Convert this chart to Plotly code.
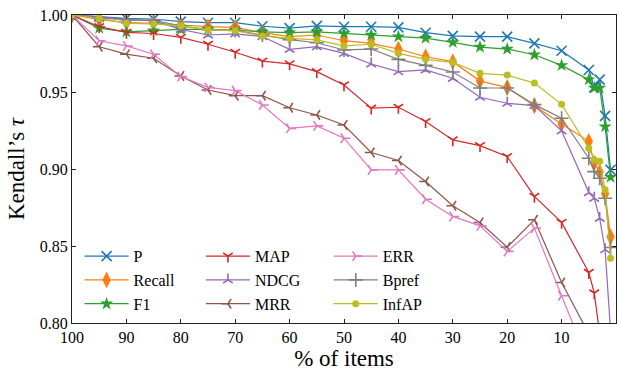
import plotly.graph_objects as go

pct_items = [100, 95, 90, 85, 80, 75, 70, 65, 60, 55, 50, 45, 40, 35, 30, 25, 20, 15, 10, 5, 4, 3, 2, 1]

P = [1.0, 0.9989, 0.9978, 0.9974, 0.9957, 0.995, 0.995, 0.9927, 0.9915, 0.9929, 0.9924, 0.9924, 0.992, 0.9885,
     0.9864, 0.986, 0.986, 0.9816, 0.9768, 0.9643, 0.953, 0.958, 0.9345, 0.8994]
Recall = [1.0, 0.9972, 0.995, 0.9946, 0.9935, 0.9924, 0.992, 0.9885, 0.9859, 0.987, 0.9833, 0.9816, 0.9779, 0.9729,
          0.9697, 0.9571, 0.953, 0.941, 0.9293, 0.918, 0.904, 0.898, 0.884, 0.856]
F1 = [1.0, 0.9915, 0.989, 0.9898, 0.9907, 0.9907, 0.9902, 0.989, 0.9885, 0.989, 0.9881, 0.987, 0.986, 0.985,
      0.9822, 0.9792, 0.9779, 0.9742, 0.9673, 0.958, 0.9527, 0.9527, 0.9275, 0.8947]
MAP = [1.0, 0.9924, 0.9887, 0.988, 0.9855, 0.981, 0.9758, 0.970, 0.9683, 0.9632, 0.9546, 0.9395, 0.9401, 0.9308,
       0.9189, 0.9152, 0.9081, 0.8822, 0.8653, 0.8328, 0.8195, 0.793, 0.75, 0.70]
NDCG = [1.0, 0.999, 0.9968, 0.9963, 0.9907, 0.987, 0.9877, 0.986, 0.9777, 0.9794, 0.9751, 0.9682, 0.9632, 0.9643,
        0.9589, 0.9466, 0.9427, 0.9412, 0.9248, 0.8847, 0.881, 0.868, 0.8476, 0.795]
MRR = [1.0, 0.9794, 0.9746, 0.9719, 0.9604, 0.9513, 0.9476, 0.9476, 0.9398, 0.9351, 0.9286, 0.9107, 0.9055, 0.8919,
       0.8761, 0.8653, 0.8493, 0.867, 0.8263, 0.793, 0.77, 0.75, 0.72, 0.68]
ERR = [1.0, 0.9833, 0.9799, 0.9745, 0.960, 0.953, 0.9509, 0.9416, 0.9264, 0.928, 0.920, 0.8994, 0.8994, 0.8804,
       0.8692, 0.8631, 0.8465, 0.8616, 0.8177, 0.774, 0.75, 0.73, 0.70, 0.66]
Bpref = [1.0, 0.998, 0.997, 0.9965, 0.993, 0.9905, 0.990, 0.987, 0.984, 0.982, 0.9773, 0.9779, 0.9712, 0.9673,
         0.963, 0.9526, 0.9526, 0.9418, 0.933, 0.907, 0.8983, 0.894, 0.881, 0.849]
InfAP = [1.0, 0.9978, 0.9946, 0.9942, 0.9929, 0.9903, 0.9898, 0.9864, 0.9848, 0.9838, 0.9799, 0.981, 0.9751, 0.9712,
         0.9693, 0.9621, 0.961, 0.9558, 0.942, 0.9135, 0.906, 0.905, 0.8865, 0.842]

x_ticks = [100, 90, 80, 70, 60, 50, 40, 30, 20, 10, 0]
y_ticks = [0.80, 0.85, 0.90, 0.95, 1.00]

FONT = "'Liberation Serif', 'Times New Roman', serif"

series = [
    ("P", P, "#1f77b4", "x-thin", 10, "legend"),
    ("Recall", Recall, "#ff7f0e", "diamond-tall", 12, "legend"),
    ("F1", F1, "#2ca02c", "star", 10, "legend"),
    ("MAP", MAP, "#d62728", "y-down", 8, "legend2"),
    ("NDCG", NDCG, "#9467bd", "y-up", 8, "legend2"),
    ("MRR", MRR, "#8c564b", "y-left", 8, "legend2"),
    ("ERR", ERR, "#e377c2", "y-right", 8, "legend3"),
    ("Bpref", Bpref, "#7f7f7f", "cross-thin", 10, "legend3"),
    ("InfAP", InfAP, "#bcbd22", "circle", 7, "legend3"),
]

fig = go.Figure()
for name, vals, color, sym, size, leg in series:
    open_sym = sym.startswith("y-") or sym.endswith("-thin")
    fig.add_trace(go.Scatter(
        x=pct_items, y=vals, name=name, mode="lines+markers",
        line=dict(color=color, width=1.2),
        marker=dict(symbol=sym, size=size, color=color,
                    line=dict(color=color, width=1.6 if open_sym else 0)),
        legend=leg,
    ))

leg_common = dict(orientation="v", xanchor="left", yanchor="top", bgcolor="rgba(0,0,0,0)",
                  font=dict(family=FONT, size=16, color="black"), itemwidth=44, tracegroupgap=0)

fig.update_layout(
    width=619, height=374,
    margin=dict(l=72, r=3, t=15, b=51),
    paper_bgcolor="white", plot_bgcolor="white",
    font=dict(family=FONT, color="black"),
    legend=dict(x=0.014, y=0.272, **leg_common),
    legend2=dict(x=0.237, y=0.272, **leg_common),
    legend3=dict(x=0.472, y=0.272, **leg_common),
    xaxis=dict(range=[100, 0], autorange=False, tickvals=x_ticks, ticktext=[str(v) for v in x_ticks],
               ticks="inside", ticklen=4, tickcolor="#222", showline=True, linecolor="#222", linewidth=1,
               mirror="ticks", showgrid=False, zeroline=False,
               tickfont=dict(family=FONT, size=16, color="black"),
               title=dict(text="% of items", font=dict(family=FONT, size=23, color="black"), standoff=4)),
    yaxis=dict(range=[0.80, 1.00], autorange=False, tickvals=y_ticks, ticktext=[f"{v:.2f}" for v in y_ticks],
               ticks="inside", ticklen=4, tickcolor="#222", showline=True, linecolor="#222", linewidth=1,
               mirror="ticks", showgrid=False, zeroline=False,
               tickfont=dict(family=FONT, size=16, color="black"),
               title=dict(text="Kendall’s <i>τ</i>", font=dict(family=FONT, size=23, color="black"), standoff=8)),
)

fig.write_html("out.html")
